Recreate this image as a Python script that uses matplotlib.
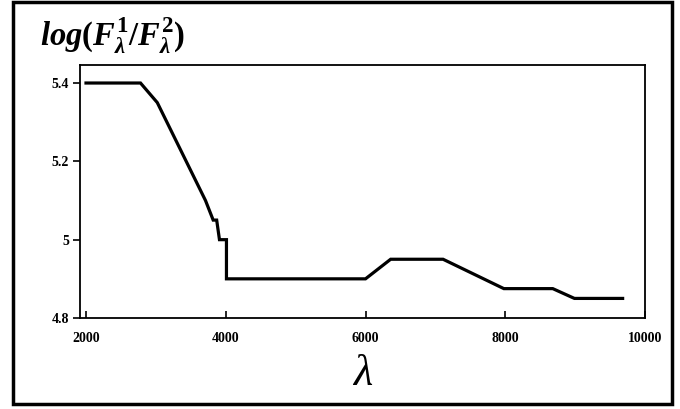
import matplotlib
matplotlib.use("Agg")
import matplotlib.pyplot as plt
from matplotlib.patches import Rectangle

# Data
wavelength = [2000, 2780, 3020, 3710, 3820, 3870, 3910, 4010, 4010, 6000, 6360, 7110, 7980, 8680, 8990, 9680]
log_ratio = [5.40, 5.40, 5.35, 5.10, 5.05, 5.05, 5.00, 5.00, 4.90, 4.90, 4.95, 4.95, 4.875, 4.875, 4.85, 4.85]

x_ticks = [2000, 4000, 6000, 8000, 10000]
x_ticklabels = ["2000", "4000", "6000", "8000", "10000"]
y_ticks = [4.8, 5.0, 5.2, 5.4]
y_ticklabels = ["4.8", "5", "5.2", "5.4"]

plt.rcParams["font.family"] = "Liberation Serif"
plt.rcParams["font.weight"] = "bold"
plt.rcParams["mathtext.fontset"] = "custom"
plt.rcParams["mathtext.rm"] = "Liberation Serif:bold"
plt.rcParams["mathtext.it"] = "Liberation Serif:italic:bold"

fig = plt.figure(figsize=(6.8, 4.09), dpi=100)
ax = fig.add_axes([80 / 680, 1 - 318 / 409, 565 / 680, 253 / 409])

ax.plot(wavelength, log_ratio, color="black", linewidth=2.3, solid_joinstyle="miter")

ax.set_xlim(1914, 10000)
ax.set_ylim(4.8, 5.446)
ax.set_xticks(x_ticks)
ax.set_xticklabels(x_ticklabels)
ax.set_yticks(y_ticks)
ax.set_yticklabels(y_ticklabels)
ax.tick_params(axis="x", direction="in", length=5, width=1.2, pad=10, labelsize=10)
ax.tick_params(axis="y", direction="out", length=5, width=1.2, pad=3, labelsize=10)
for s in ax.spines.values():
    s.set_linewidth(1.3)

# Axis labels placed like the original figure
fig.text(40 / 680, 1 - 46 / 409, r"$log(F_\lambda^1/F_\lambda^2)$", fontsize=23.5, ha="left", va="baseline")
fig.text(363 / 680, 1 - 374 / 409, "λ", fontsize=32, fontstyle="italic", fontweight="normal",
         ha="center", va="center")

# Outer frame
fig.patches.append(Rectangle((13 / 680, 5 / 409), 659 / 680, 402 / 409, transform=fig.transFigure,
                             fill=False, edgecolor="black", linewidth=2.5))

fig.savefig("out.png", dpi=100)
